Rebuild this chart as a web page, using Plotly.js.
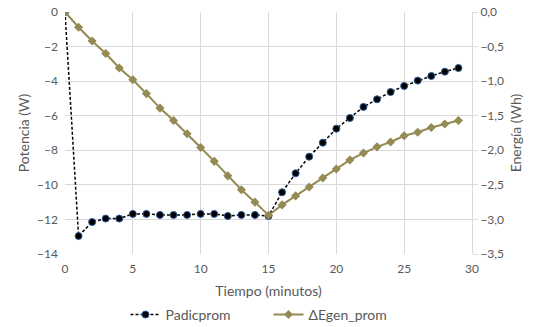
<!DOCTYPE html>
<html>
<head>
<meta charset="utf-8">
<script src="https://cdn.plot.ly/plotly-3.0.1.min.js"></script>
<style>html,body{margin:0;padding:0;background:#fff;}#chart{width:538px;height:327px;}</style>
</head>
<body>
<div id="chart"></div>
<script>
const tiempo = [0,1,2,3,4,5,6,7,8,9,10,11,12,13,14,15,16,17,18,19,20,21,22,23,24,25,26,27,28,29];
const padicprom = [0,-12.96,-12.15,-11.95,-11.95,-11.68,-11.68,-11.74,-11.74,-11.74,-11.68,-11.68,-11.8,-11.74,-11.74,-11.8,
  -10.43,-9.33,-8.37,-7.56,-6.75,-6.13,-5.49,-5.05,-4.63,-4.28,-3.97,-3.70,-3.45,-3.24];
const egenProm = [0,-0.22,-0.42,-0.60,-0.81,-0.98,-1.18,-1.39,-1.57,-1.76,-1.96,-2.16,-2.37,-2.57,-2.75,-2.94,
  -2.79,-2.66,-2.53,-2.40,-2.27,-2.14,-2.04,-1.95,-1.88,-1.79,-1.74,-1.67,-1.62,-1.57];
const nombres = ["Padicprom","\u0394Egen_prom"];

const traces = [
  {x: tiempo, y: padicprom, name: nombres[0], type: 'scatter', mode: 'lines+markers',
   line: {color: '#000000', width: 1.5, dash: '3px,2px'},
   marker: {symbol: 'circle', size: 7, color: '#000000', line: {color: '#2E5C9A', width: 1}}},
  {x: tiempo, y: egenProm, name: nombres[1], type: 'scatter', mode: 'lines+markers', yaxis: 'y2',
   line: {color: '#948A54', width: 2},
   marker: {symbol: 'diamond', size: 7, color: '#948A54'}}
];

const tickFont = {family: 'Lato, "Open Sans", sans-serif', size: 12, color: '#595959'};
const titleFont = {family: 'Lato, "Open Sans", sans-serif', size: 14, color: '#595959'};

const layout = {
  width: 538, height: 327,
  margin: {l: 65, r: 66, t: 12, b: 73, autoexpand: false},
  paper_bgcolor: '#fff', plot_bgcolor: '#fff',
  separators: ',.',
  showlegend: true,
  legend: {orientation: 'h', x: 0.5, xanchor: 'center', yref: 'container', y: 0.037, yanchor: 'middle',
           entrywidth: 98, entrywidthmode: 'pixels',
           font: {family: 'Lato, "Open Sans", sans-serif', size: 14, color: '#595959'}, traceorder: 'normal'},
  xaxis: {range: [0, 30], dtick: 5, tick0: 0, showgrid: true, gridcolor: '#D9D9D9', zeroline: false,
          showline: false, ticks: '', tickfont: tickFont, ticklabelstandoff: 6, automargin: false,
          title: {text: 'Tiempo (minutos)', font: titleFont, standoff: 13}},
  yaxis: {range: [-14, 0], dtick: 2, showgrid: true, gridcolor: '#D9D9D9', zeroline: false,
          showline: false, ticks: '', tickfont: tickFont, ticklabelstandoff: 6, automargin: false,
          title: {text: 'Potencia (W)', font: titleFont, standoff: 4}},
  yaxis2: {range: [-3.5, 0], dtick: 0.5, tickformat: '.1f', overlaying: 'y', side: 'right',
           showgrid: false, zeroline: false, showline: true, linecolor: '#D9D9D9', linewidth: 1,
           ticks: 'outside', ticklen: 5, tickcolor: '#D9D9D9', tickfont: tickFont, automargin: false,
           title: {text: 'Energía (Wh)', font: titleFont, standoff: 8}}
};

Plotly.newPlot('chart', traces, layout, {displayModeBar: false, staticPlot: true});
</script>
</body>
</html>
